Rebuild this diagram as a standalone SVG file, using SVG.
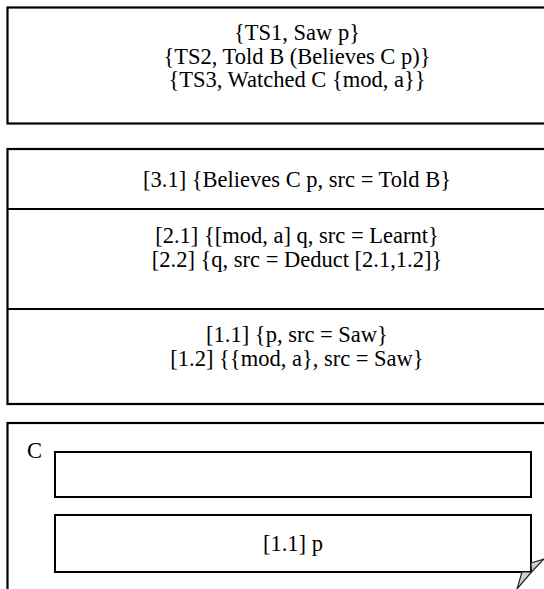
<svg xmlns="http://www.w3.org/2000/svg" width="544" height="589" viewBox="0 0 544 589">
  <style>
    .box { fill: #ffffff; stroke: #000000; stroke-width: 2.2; }
    .inner { fill: #ffffff; stroke: #000000; stroke-width: 2; }
    .fold { fill: #d0d0d0; stroke: #222222; stroke-width: 1.2; stroke-linejoin: round; }
    text { font-family: "Liberation Serif", "Times New Roman", serif; font-size: 22.5px; fill: #000000; }
    .c { text-anchor: middle; }
  </style>
  <rect width="544" height="589" fill="#ffffff"/>

  <!-- Timestamped observations -->
  <g id="observations">
    <rect class="box" x="7.5" y="7.5" width="600" height="116"/>
    <text class="c" x="297" y="40">{TS1, Saw p}</text>
    <text class="c" x="297" y="64">{TS2, Told B (Believes C p)}</text>
    <text class="c" x="297" y="87">{TS3, Watched C {mod, a}}</text>
  </g>

  <!-- Layered belief store -->
  <g id="beliefs">
    <rect class="box" x="7.5" y="149" width="600" height="255"/>
    <line class="box" x1="7.5" y1="209" x2="607.5" y2="209"/>
    <line class="box" x1="7.5" y1="309" x2="607.5" y2="309"/>
  </g>
  <g id="layer3">
    <text class="c" x="297" y="187">[3.1] {Believes C p, src = Told B}</text>
  </g>
  <g id="layer2">
    <text class="c" x="297" y="243">[2.1] {[mod, a] q, src = Learnt}</text>
    <text class="c" x="297" y="267">[2.2] {q, src = Deduct [2.1,1.2]}</text>
  </g>
  <g id="layer1">
    <text class="c" x="297" y="342">[1.1] {p, src = Saw}</text>
    <text class="c" x="297" y="366">[1.2] {{mod, a}, src = Saw}</text>
  </g>

  <!-- Model of agent C -->
  <g id="agentC">
    <rect class="box" x="7.5" y="423" width="600" height="200"/>
    <text x="27" y="458">C</text>
  </g>
  <g id="agentC-slot2">
    <rect class="inner" x="55" y="452" width="476" height="45"/>
  </g>
  <g id="agentC-slot1">
    <rect class="inner" x="55" y="515" width="476" height="57"/>
    <text class="c" x="293" y="551">[1.1] p</text>
    <!-- curled corner -->
    <polygon class="fold" points="531,563 544,559 531.5,572"/>
    <polygon class="fold" points="522,572 531.5,572 517,589"/>
  </g>

  <g id="connectors"/>
</svg>
